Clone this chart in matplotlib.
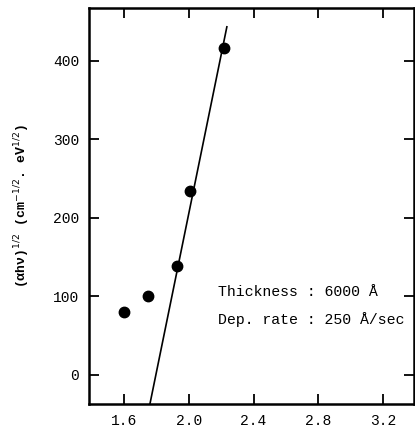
import matplotlib
matplotlib.use("Agg")
import matplotlib.pyplot as plt
import numpy as np

# data
energy = [1.60, 1.75, 1.93, 2.01, 2.22]
ahv_half = [80, 100, 139, 234, 416]
fit_x = [1.76, 2.235]
fit_y = [-37, 443]
xticks = [1.6, 2.0, 2.4, 2.8, 3.2]
xticklabels = ["1.6", "2.0", "2.4", "2.8", "3.2"]
yticks = [0, 100, 200, 300, 400]
yticklabels = ["0", "100", "200", "300", "400"]

plt.rcParams['font.family'] = ['Liberation Mono', 'DejaVu Sans Mono', 'DejaVu Sans']

fig = plt.figure(figsize=(4.15, 4.3), dpi=100)
ax = fig.add_axes([0.2145, 0.0605, 0.783, 0.921])

ax.plot(fit_x, fit_y, color='black', lw=1.2)
ax.plot(energy, ahv_half, 'o', color='black', ms=7.5)

ax.set_xlim(1.384, 3.39)
ax.set_ylim(-37, 467)
ax.set_xticks(xticks)
ax.set_xticklabels(xticklabels)
ax.set_yticks(yticks)
ax.set_yticklabels(yticklabels)
ax.tick_params(direction='in', top=True, right=True, length=7, width=1.3,
               labelsize=10.5, pad=7)
for s in ax.spines.values():
    s.set_linewidth(1.8)

ax.set_ylabel("(αhν)$^{1/2}$ (cm$^{-1/2}$. eV$^{1/2}$)", fontsize=9.5,
              fontweight='bold', labelpad=15)

ax.text(2.18, 106, "Thickness : 6000 Å", fontsize=10.7, va='center', ha='left')
ax.text(2.18, 70, "Dep. rate : 250 Å/sec", fontsize=10.7, va='center', ha='left',
        clip_on=True)

fig.savefig("out.png", dpi=100)
